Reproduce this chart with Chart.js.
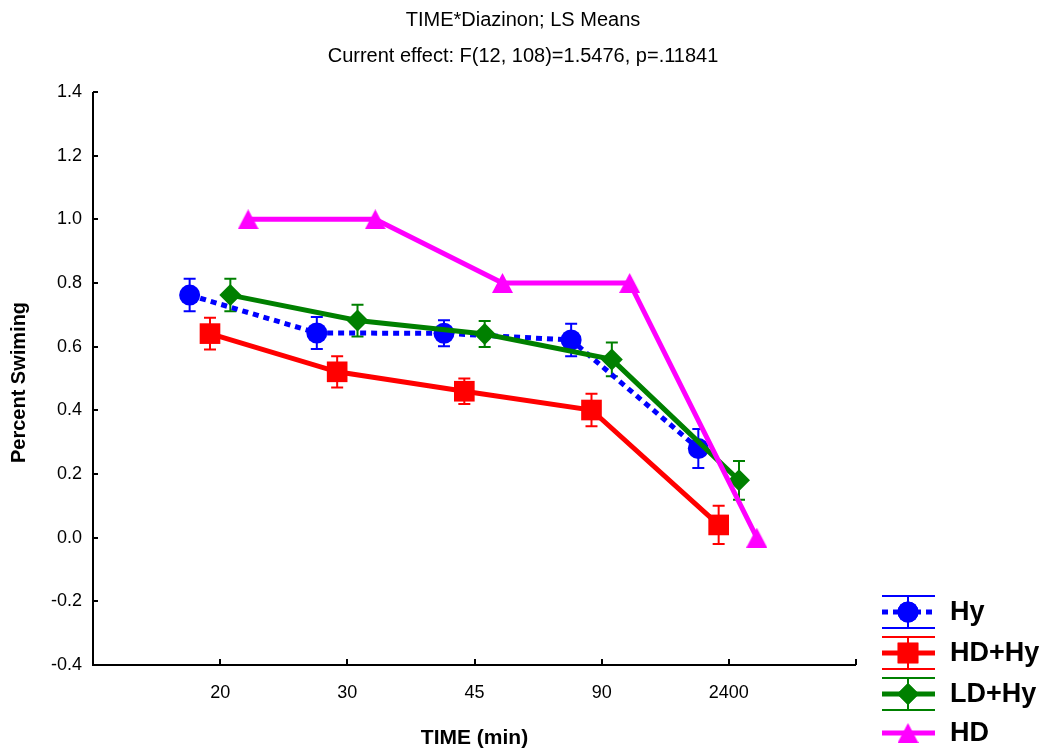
<!DOCTYPE html>
<html><head><meta charset="utf-8">
<script src="https://cdn.jsdelivr.net/npm/chart.js@4/dist/chart.umd.min.js"></script>
<style>html,body{margin:0;padding:0;background:#fff;overflow:hidden}#wrap{width:1047px;height:749px;position:relative}</style>
</head><body><div id="wrap"><canvas id="c" width="1047" height="749"></canvas></div>
<script>
// ---- data ----
const timeLabels = ['20', '30', '45', '90', '2400'];
const yTickValues = [-0.4, -0.2, 0.0, 0.2, 0.4, 0.6, 0.8, 1.0, 1.2, 1.4];
const seriesNames = ['Hy', 'HD+Hy', 'LD+Hy', 'HD'];
const hyMeans   = [0.762, 0.643, 0.642, 0.621, 0.280];
const hyErr     = [0.051, 0.050, 0.041, 0.051, 0.061];
const hdHyMeans = [0.641, 0.521, 0.460, 0.401, 0.040];
const hdHyErr   = [0.050, 0.049, 0.040, 0.051, 0.060];
const ldHyMeans = [0.762, 0.682, 0.640, 0.560, 0.180];
const ldHyErr   = [0.051, 0.050, 0.041, 0.053, 0.061];
const hdMeans   = [1.0, 1.0, 0.8, 0.8, 0.0];
const titleText = 'TIME*Diazinon; LS Means';
const subtitleText = 'Current effect: F(12, 108)=1.5476, p=.11841';
const xTitle = 'TIME (min)';
const yTitle = 'Percent Swiming';

// ---- styling ----
const FONT = "'Liberation Sans', Arial, sans-serif";
function makeTriangle(w, h, color) {
  const c = document.createElement('canvas');
  c.width = w; c.height = h;
  const g = c.getContext('2d');
  g.fillStyle = color;
  g.beginPath(); g.moveTo(w / 2, 0); g.lineTo(w, h); g.lineTo(0, h); g.closePath(); g.fill();
  return c;
}
const triImg = makeTriangle(21, 20, '#ff00ff');
const styles = [
  {color: '#0000ff', point: 'circle',  radius: 10.5, dash: [6, 5], offset: -0.24, width: 5, order: 4},
  {color: '#ff0000', point: 'rect',    radius: 14.6, dash: [],     offset: -0.08, width: 5, order: 3},
  {color: '#008000', point: 'rectRot', radius: 11,   dash: [],     offset:  0.08, width: 5, order: 2},
  {color: '#ff00ff', point: triImg,    radius: 11,   dash: [],     offset:  0.22, width: 5, order: 1}
];
const meansList = [hyMeans, hdHyMeans, ldHyMeans, hdMeans];
const errList = [hyErr, hdHyErr, ldHyErr, null];

const datasets = seriesNames.map((name, s) => {
  const st = styles[s];
  return {
    label: name,
    data: timeLabels.map((t, i) => ({x: i + 1 + st.offset, y: meansList[s][i]})),
    errors: errList[s],
    borderColor: st.color,
    backgroundColor: st.color,
    borderWidth: st.width,
    borderDash: st.dash,
    pointStyle: st.point,
    pointRadius: st.radius,
    pointBorderWidth: 0,
    pointBackgroundColor: st.color,
    pointHoverRadius: st.radius,
    tension: 0,
    fill: false,
    order: st.order
  };
});

const decor = {
  id: 'decor',
  beforeDatasetsDraw(chart) {
    const {ctx, chartArea: a, scales: {x, y}} = chart;
    ctx.save();
    ctx.strokeStyle = '#000';
    ctx.lineWidth = 2;
    ctx.beginPath();
    ctx.moveTo(a.left, a.top); ctx.lineTo(a.left, a.bottom); ctx.lineTo(a.right, a.bottom);
    ctx.stroke();
    ctx.beginPath();
    yTickValues.forEach(v => { const py = Math.round(y.getPixelForValue(v)); ctx.moveTo(a.left, py); ctx.lineTo(a.left + 5, py); });
    [1, 2, 3, 4, 5, 6].forEach(v => { const px = Math.round(x.getPixelForValue(v)); ctx.moveTo(px, a.bottom); ctx.lineTo(px, a.bottom - 6); });
    ctx.stroke();
    chart.data.datasets.forEach(ds => {
      if (!ds.errors) return;
      ctx.strokeStyle = ds.borderColor;
      ctx.lineWidth = 2;
      ctx.setLineDash([]);
      ds.data.forEach((p, i) => {
        const px = x.getPixelForValue(p.x);
        const y1 = y.getPixelForValue(p.y + ds.errors[i]);
        const y2 = y.getPixelForValue(p.y - ds.errors[i]);
        ctx.beginPath();
        ctx.moveTo(px, y1); ctx.lineTo(px, y2);
        ctx.moveTo(px - 6, y1); ctx.lineTo(px + 6, y1);
        ctx.moveTo(px - 6, y2); ctx.lineTo(px + 6, y2);
        ctx.stroke();
      });
    });
    ctx.restore();
  },
  afterDraw(chart) {
    const {ctx, chartArea: a} = chart;
    ctx.save();
    ctx.fillStyle = '#000';
    ctx.textAlign = 'center';
    ctx.textBaseline = 'alphabetic';
    ctx.font = '20px ' + FONT;
    ctx.fillText(titleText, 523, 26);
    ctx.fillText(subtitleText, 523, 62);
    ctx.font = 'bold 21px ' + FONT;
    ctx.fillText(xTitle, (a.left + a.right) / 2, 744);
    ctx.save();
    ctx.translate(25, (a.top + a.bottom) / 2 + 4);
    ctx.rotate(-Math.PI / 2);
    ctx.font = 'bold 20px ' + FONT;
    ctx.fillText(yTitle, 0, 0);
    ctx.restore();
    // legend
    const rows = [612, 653, 694, 733];
    const x0 = 882, x1 = 935, xc = 908;
    chart.data.datasets.forEach((ds, s) => {
      const ry = rows[s];
      ctx.strokeStyle = ds.borderColor;
      ctx.fillStyle = ds.borderColor;
      if (ds.errors) {
        ctx.lineWidth = 2; ctx.setLineDash([]);
        ctx.beginPath();
        ctx.moveTo(x0, ry - 16); ctx.lineTo(x1, ry - 16);
        ctx.moveTo(x0, ry + 16); ctx.lineTo(x1, ry + 16);
        ctx.moveTo(xc, ry - 16); ctx.lineTo(xc, ry + 16);
        ctx.stroke();
      }
      ctx.lineWidth = ds.borderWidth;
      ctx.setLineDash(ds.borderDash);
      ctx.beginPath(); ctx.moveTo(x0, ry); ctx.lineTo(x1, ry); ctx.stroke();
      ctx.setLineDash([]);
      Chart.helpers.drawPoint(ctx, {pointStyle: ds.pointStyle, radius: ds.pointRadius, rotation: 0, borderWidth: 0}, xc, ry);
      ctx.fill();
      ctx.fillStyle = '#000';
      ctx.textAlign = 'left';
      ctx.textBaseline = 'middle';
      ctx.font = 'bold 27px ' + FONT;
      ctx.fillText(ds.label, 950, ry + 1);
    });
    ctx.restore();
  }
};

new Chart(document.getElementById('c'), {
  type: 'line',
  data: {datasets},
  options: {
    responsive: false,
    animation: false,
    devicePixelRatio: 1,
    layout: {padding: {top: 92, right: 191, bottom: 0, left: 0}},
    plugins: {legend: {display: false}, title: {display: false}, tooltip: {enabled: false}},
    scales: {
      x: {
        type: 'linear', min: 0, max: 6,
        afterBuildTicks: s => { s.ticks = timeLabels.map((t, i) => ({value: i + 1})); },
        afterFit: s => { s.height = 84; },
        ticks: {autoSkip: false, maxRotation: 0, padding: 17, color: '#000',
                font: {family: FONT, size: 18},
                callback: v => timeLabels[v - 1]},
        grid: {display: false, drawTicks: false},
        border: {display: false}
      },
      y: {
        min: -0.4, max: 1.4,
        afterBuildTicks: s => { s.ticks = yTickValues.map(v => ({value: v})); },
        afterFit: s => { s.width = 93; },
        ticks: {autoSkip: false, padding: 11, color: '#000',
                font: {family: FONT, size: 18},
                callback: v => v.toFixed(1)},
        grid: {display: false, drawTicks: false},
        border: {display: false}
      }
    }
  },
  plugins: [decor]
});
</script></body></html>
